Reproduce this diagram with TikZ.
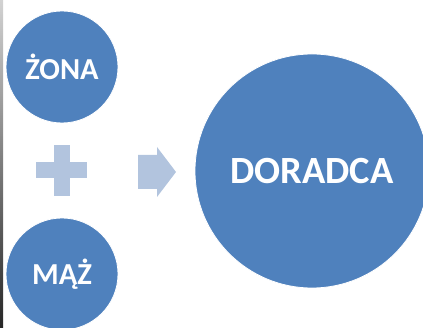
\documentclass[tikz,border=0pt]{standalone}
\usepackage{fontspec}
\setmainfont{Carlito}
\usetikzlibrary{positioning}

\definecolor{ballblue}{RGB}{79,129,189}
\definecolor{signblue}{RGB}{178,196,222}

\begin{document}
\begin{tikzpicture}[x=1pt,y=-1pt,
  ballstyle/.style={circle,fill=ballblue,draw=white,line width=0.8pt,inner sep=0pt,text=white,font=\bfseries},
  signstyle/.style={fill=signblue}]
\useasboundingbox (0,0) rectangle (423,328);
% strip at the left edge
\shade[top color=gray!35,bottom color=black!85] (0,0) rectangle (3,328);
% the two small balls
\node[ballstyle,minimum size=112pt,font=\bfseries\fontsize{30.5}{32}\selectfont] (zona) at (62,67) {ŻONA};
\node[ballstyle,minimum size=112pt,font=\bfseries\fontsize{30.5}{32}\selectfont] (maz) at (62,274) {MĄŻ};
% the big ball
\node[ballstyle,minimum size=234pt,font=\bfseries\fontsize{38.5}{40}\selectfont] (doradca) at (312,171) {DORADCA};
% plus sign
\coordinate (plus) at (61.5,170.5);
\fill[signstyle] ([xshift=-25.5pt,yshift=-8pt]plus) rectangle ([xshift=25.5pt,yshift=8pt]plus);
\fill[signstyle] ([xshift=-8pt,yshift=-25.5pt]plus) rectangle ([xshift=8pt,yshift=25.5pt]plus);
% arrow
\fill[signstyle] (138,155) -- (157,155) -- (157,147) -- (176,172) -- (157,197)
  -- (157,189) -- (138,189) -- cycle;
\end{tikzpicture}
\end{document}
